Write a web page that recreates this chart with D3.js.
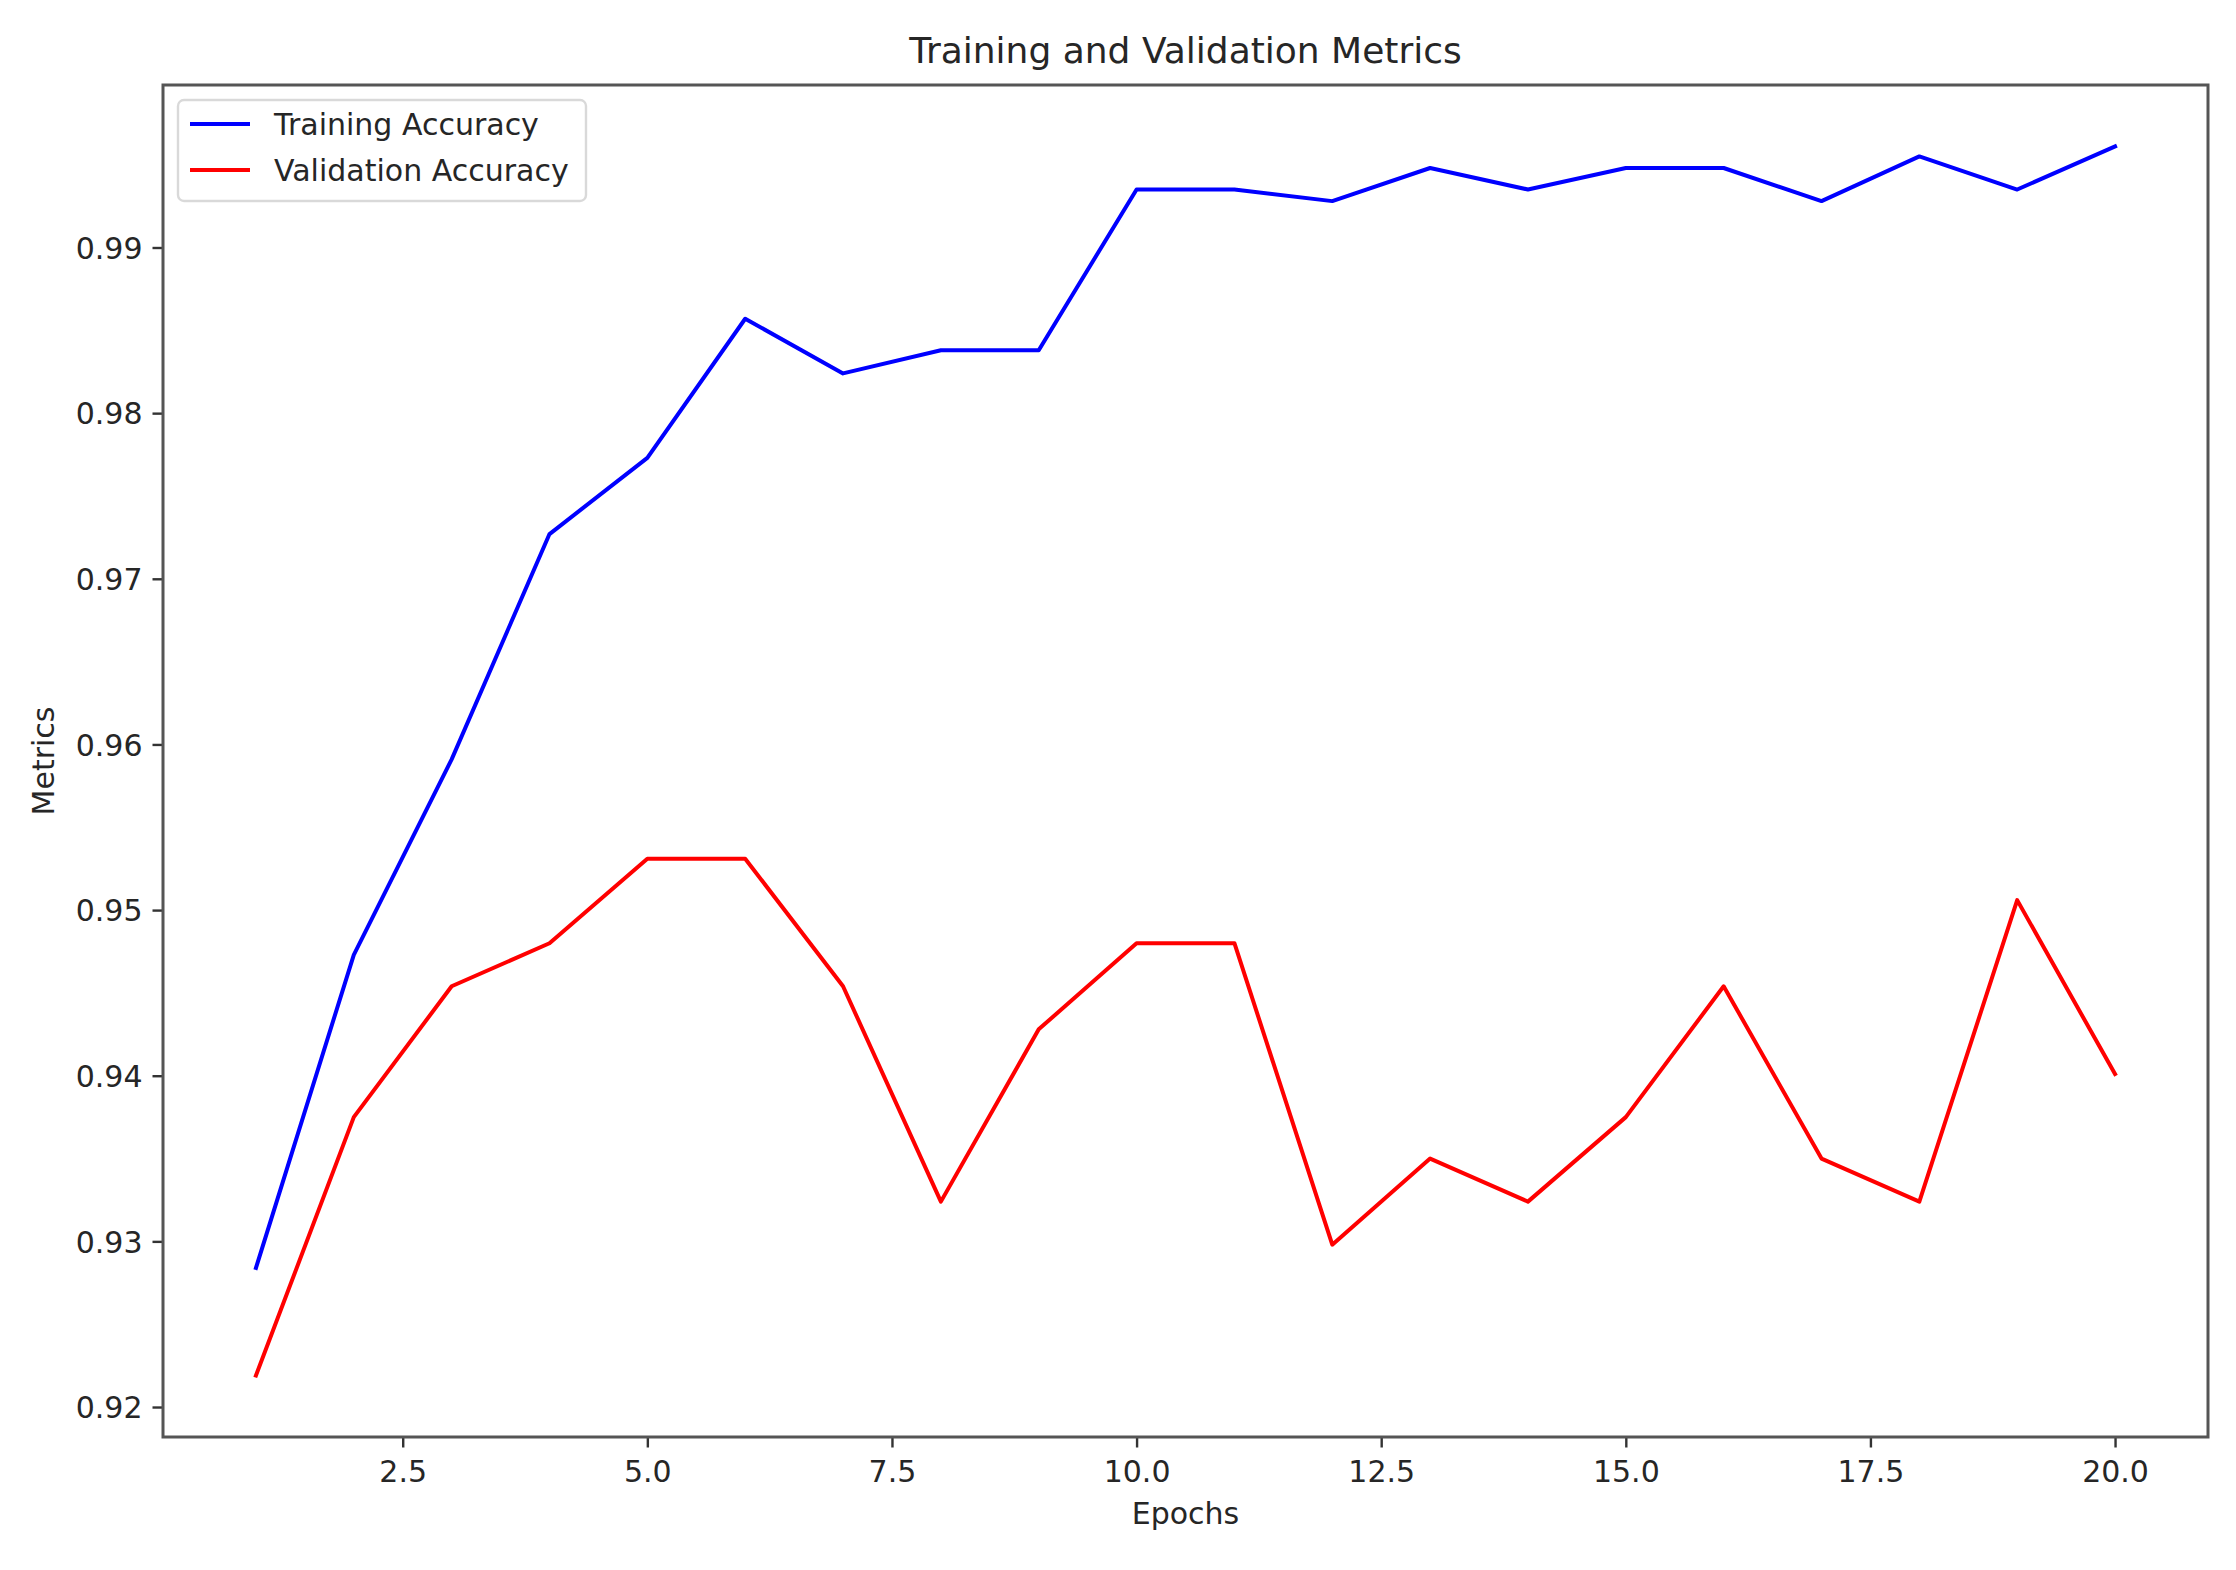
<!DOCTYPE html>
<html>
<head>
<meta charset="utf-8">
<script src="https://cdn.jsdelivr.net/npm/d3@7"></script>
<style>
  body { margin: 0; background: #fff; }
  text { font-family: "DejaVu Sans", sans-serif; fill: #262626; }
</style>
</head>
<body>
<div id="chart"></div>
<script>
//---------------------------------- Data --------------------
var epochs = d3.range(1, 21);
var train_acc = [0.9284, 0.9473, 0.9591, 0.9727, 0.9773, 0.9857, 0.9824, 0.9838, 0.9838, 0.9935,
                 0.9935, 0.9928, 0.9948, 0.9935, 0.9948, 0.9948, 0.9928, 0.9955, 0.9935, 0.9961];
var val_acc   = [0.9219, 0.9375, 0.9454, 0.9480, 0.9531, 0.9531, 0.9454, 0.9324, 0.9428, 0.9480,
                 0.9480, 0.9298, 0.9350, 0.9324, 0.9375, 0.9454, 0.9350, 0.9324, 0.9506, 0.9401];
var x_ticks = [2.5, 5, 7.5, 10, 12.5, 15, 17.5, 20];
var y_ticks = [0.92, 0.93, 0.94, 0.95, 0.96, 0.97, 0.98, 0.99];
var series_names = ["Training Accuracy", "Validation Accuracy"];
var series_colors = ["blue", "red"];

//---------------------------------- View --------------------
var width = 2236, height = 1570;
var box = {left: 163, right: 2208, top: 85, bottom: 1437};

var svg = d3.select("#chart").append("svg")
    .attr("width", width)
    .attr("height", height);

// matplotlib style 5% margins around the data
var all_y = train_acc.concat(val_acc);
var y_min = d3.min(all_y), y_max = d3.max(all_y);
var y_pad = (y_max - y_min) * 0.05;
var x_pad = (d3.max(epochs) - d3.min(epochs)) * 0.05;

var x_scale = d3.scaleLinear()
    .domain([d3.min(epochs) - x_pad, d3.max(epochs) + x_pad])
    .range([box.left, box.right]);

var y_scale = d3.scaleLinear()
    .domain([y_min - y_pad, y_max + y_pad])
    .range([box.bottom, box.top]);

// ---------- Axes ----------
var x_axis = svg.append("g")
    .attr("transform", "translate(0," + box.bottom + ")")
    .call(d3.axisBottom(x_scale).tickValues(x_ticks).tickFormat(d3.format(".1f")).tickSize(10.5).tickPadding(10));

var y_axis = svg.append("g")
    .attr("transform", "translate(" + box.left + ",0)")
    .call(d3.axisLeft(y_scale).tickValues(y_ticks).tickFormat(d3.format(".2f")).tickSize(10.5).tickPadding(10));

[x_axis, y_axis].forEach(function(ax){
  ax.select(".domain").remove();
  ax.selectAll(".tick line").attr("stroke", "#333").attr("stroke-width", 2.4);
  ax.selectAll(".tick text").style("font-size", "30px").attr("fill", "#262626");
});
x_axis.selectAll(".tick text").attr("dy", null).attr("y", 10.5 + 10 + 24);
y_axis.selectAll(".tick text").attr("dy", "0.36em");

// ---------- Lines ----------
var line = d3.line()
    .x(function(d, i){ return x_scale(epochs[i]); })
    .y(function(d){ return y_scale(d); });

[train_acc, val_acc].forEach(function(s, k){
  svg.append("path")
    .datum(s)
    .attr("d", line)
    .attr("fill", "none")
    .attr("stroke", series_colors[k])
    .attr("stroke-width", 4)
    .attr("stroke-linejoin", "round")
    .attr("stroke-linecap", "square");
});

// ---------- Border around the plot ----------
svg.append("rect")
    .attr("x", box.left)
    .attr("y", box.top)
    .attr("width", box.right - box.left)
    .attr("height", box.bottom - box.top)
    .attr("fill", "none")
    .attr("stroke", "#555")
    .attr("stroke-width", 3);

// ---------- Legend ----------
var legend = svg.append("g").attr("transform", "translate(178,100)");
legend.append("rect")
    .attr("width", 408)
    .attr("height", 101)
    .attr("rx", 6)
    .attr("fill", "#fff")
    .attr("fill-opacity", 0.8)
    .attr("stroke", "#d9d9d9")
    .attr("stroke-width", 2.4);

series_names.forEach(function(name, i){
  var cy = 24 + i * 46;
  legend.append("line")
    .attr("x1", 12).attr("x2", 72)
    .attr("y1", cy).attr("y2", cy)
    .attr("stroke", series_colors[i])
    .attr("stroke-width", 4);
  legend.append("text")
    .attr("x", 96)
    .attr("y", cy + 11)
    .style("font-size", "30px")
    .text(name);
});

// ---------- Titles ----------
svg.append("text")
    .attr("x", (box.left + box.right) / 2)
    .attr("y", 63)
    .attr("text-anchor", "middle")
    .style("font-size", "36px")
    .text("Training and Validation Metrics");

svg.append("text")
    .attr("x", (box.left + box.right) / 2)
    .attr("y", 1524)
    .attr("text-anchor", "middle")
    .style("font-size", "30px")
    .text("Epochs");

svg.append("text")
    .attr("transform", "translate(54," + ((box.top + box.bottom) / 2) + ") rotate(-90)")
    .attr("text-anchor", "middle")
    .style("font-size", "30px")
    .text("Metrics");
</script>
</body>
</html>
